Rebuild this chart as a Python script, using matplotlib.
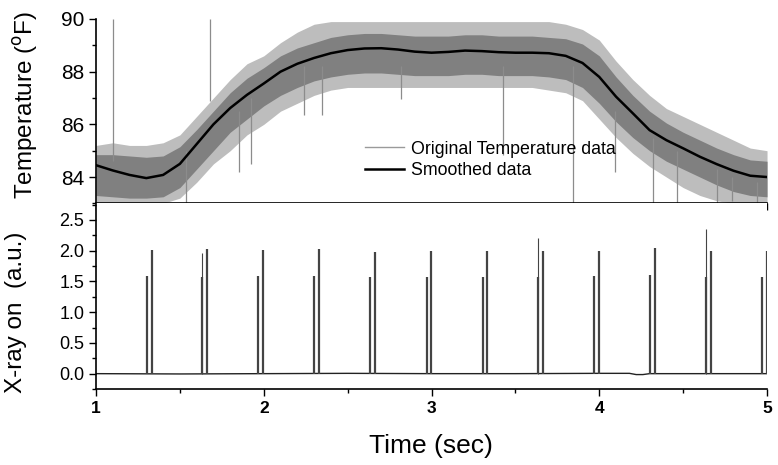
import numpy as np
import matplotlib
matplotlib.use("Agg")
import matplotlib.pyplot as plt
from matplotlib.lines import Line2D
from matplotlib.ticker import MultipleLocator

plt.rcParams['font.family'] = ['Liberation Sans', 'DejaVu Sans']

# temperature, every 0.1 s
t = [1.0, 1.1, 1.2, 1.3, 1.4, 1.5, 1.6, 1.7, 1.8, 1.9, 2.0, 2.1, 2.2, 2.3, 2.4, 2.5, 2.6, 2.7, 2.8, 2.9,
     3.0, 3.1, 3.2, 3.3, 3.4, 3.5, 3.6, 3.7, 3.8, 3.9, 4.0, 4.1, 4.2, 4.3, 4.4, 4.5, 4.6, 4.7, 4.8, 4.9, 5.0]
smooth = [84.45, 84.25, 84.08, 83.96, 84.08, 84.5, 85.25, 86.0, 86.62, 87.12, 87.55, 88.0, 88.3, 88.52, 88.7,
          88.82, 88.88, 88.89, 88.84, 88.76, 88.72, 88.75, 88.8, 88.78, 88.74, 88.72, 88.72, 88.7, 88.6, 88.33,
          87.8, 87.05, 86.42, 85.78, 85.4, 85.09, 84.77, 84.49, 84.24, 84.05, 84.0]
core_hi = [84.85, 84.85, 84.8, 84.75, 84.8, 85.15, 85.8, 86.5, 87.2, 87.75, 88.15, 88.6, 88.9, 89.1, 89.3,
           89.4, 89.45, 89.45, 89.4, 89.35, 89.35, 89.35, 89.4, 89.4, 89.35, 89.35, 89.35, 89.3, 89.25, 89.05,
           88.6, 87.8, 87.1, 86.5, 86.05, 85.7, 85.4, 85.1, 84.85, 84.65, 84.6]
core_lo = [83.3, 83.25, 83.2, 83.2, 83.25, 83.6, 84.3, 85.0, 85.7, 86.2, 86.7, 87.1, 87.4, 87.65, 87.8,
           87.9, 87.95, 87.95, 87.9, 87.85, 87.85, 87.85, 87.9, 87.9, 87.85, 87.85, 87.85, 87.8, 87.7, 87.4,
           86.8, 86.1, 85.5, 85.0, 84.6, 84.3, 84.0, 83.7, 83.45, 83.3, 83.25]
outer_hi = [85.2, 85.3, 85.2, 85.2, 85.3, 85.6, 86.3, 87.0, 87.7, 88.3, 88.6, 89.1, 89.5, 89.8, 89.9,
            89.9, 89.9, 89.9, 89.9, 89.9, 89.9, 89.9, 89.9, 89.9, 89.9, 89.9, 89.9, 89.9, 89.8, 89.6,
            89.2, 88.4, 87.7, 87.1, 86.6, 86.3, 86.0, 85.7, 85.4, 85.1, 85.0]
outer_lo = [83.0, 83.0, 83.0, 83.0, 83.0, 83.2, 83.8, 84.5, 85.0, 85.6, 86.0, 86.5, 86.8, 87.1, 87.3,
            87.4, 87.4, 87.4, 87.4, 87.4, 87.4, 87.4, 87.4, 87.4, 87.4, 87.4, 87.4, 87.3, 87.2, 86.9,
            86.2, 85.5, 84.9, 84.4, 84.0, 83.6, 83.3, 83.1, 83.0, 83.0, 83.0]

# single outlier samples of the raw temperature
spike_t = [1.099, 1.68, 1.534, 1.85, 1.922, 2.242, 2.35, 2.818, 3.424, 3.845, 4.094, 4.318, 4.465, 4.70, 4.79, 4.94]
spike_lo = [84.6, 86.9, 83.0, 84.2, 84.5, 86.35, 86.35, 86.95, 84.83, 83.0, 84.2, 83.0, 83.0, 83.0, 83.1, 83.0]
spike_hi = [90.0, 90.0, 85.0, 86.5, 87.0, 88.2, 88.2, 88.2, 88.2, 88.2, 86.5, 85.5, 85.0, 84.3, 84.0, 83.8]

# x-ray signal
pulse_t = [1.302, 1.332, 1.634, 1.663, 1.968, 1.998, 2.301, 2.331, 2.633, 2.663, 2.971, 2.997,
           3.304, 3.330, 3.637, 3.665, 3.970, 3.998, 4.304, 4.332, 4.636, 4.664, 4.972, 4.998]
pulse_h = [1.59, 2.01, 1.57, 2.03, 1.59, 2.01, 1.59, 2.03, 1.58, 1.98, 1.58, 2.00,
           1.58, 2.00, 1.58, 2.00, 1.59, 2.00, 1.60, 2.04, 1.58, 2.00, 1.58, 2.00]
peak_t = [1.634, 3.637, 4.636]
peak_h = [1.97, 2.21, 2.35]
base_t = [1.0, 1.5, 2.0, 2.5, 3.0, 3.5, 4.0, 4.18, 4.22, 4.26, 4.3, 4.5, 5.0]
base_v = [0.0, -0.005, 0.0, 0.005, 0.0, 0.0, 0.005, 0.005, -0.015, -0.015, 0.0, 0.0, 0.0]

fig = plt.figure(figsize=(7.78, 4.65), dpi=100)
ax1 = fig.add_axes([0.1234, 0.5626, 0.8625, 0.3966])
ax2 = fig.add_axes([0.1234, 0.1634, 0.8625, 0.3992])

# top panel
ax1.fill_between(t, outer_lo, outer_hi, color='#bdbdbd', lw=0)
ax1.fill_between(t, core_lo, core_hi, color='#808080', lw=0)
ax1.vlines(spike_t, spike_lo, spike_hi, color='#8c8c8c', lw=0.9)
ax1.plot(t, smooth, color='black', lw=1.8)
ax1.set_xlim(1, 5)
ax1.set_ylim(83, 90)
ax1.yaxis.set_major_locator(MultipleLocator(2))
ax1.yaxis.set_minor_locator(MultipleLocator(1))
ax1.xaxis.set_major_locator(MultipleLocator(1))
ax1.xaxis.set_minor_locator(MultipleLocator(0.5))
ax1.tick_params(axis='x', labelbottom=False)
ax1.tick_params(axis='y', labelsize=15)
ax1.set_ylabel('Temperature ($^{\\rm o}$F)', fontsize=17.5)
ax1.yaxis.set_label_coords(-0.083, 0.536)

handles = [Line2D([], [], color='#9a9a9a', lw=1), Line2D([], [], color='black', lw=1.8)]
ax1.legend(handles, ['Original Temperature data', 'Smoothed data'], loc='upper left',
           bbox_to_anchor=(0.401, 0.34), frameon=False, fontsize=12.8, handlelength=2.2,
           handletextpad=0.4, labelspacing=0.25, borderpad=0, borderaxespad=0)

# bottom panel
ax2.plot(base_t, base_v, color='#222222', lw=1)
ax2.vlines(pulse_t, 0, pulse_h, color='#444444', lw=1.6)
ax2.vlines(peak_t, 0, peak_h, color='#444444', lw=0.8)
ax2.set_xlim(1, 5)
ax2.set_ylim(-0.25, 2.77)
ax2.yaxis.set_major_locator(MultipleLocator(0.5))
ax2.yaxis.set_minor_locator(MultipleLocator(0.25))
ax2.xaxis.set_major_locator(MultipleLocator(1))
ax2.xaxis.set_minor_locator(MultipleLocator(0.5))
ax2.yaxis.set_major_formatter(matplotlib.ticker.FormatStrFormatter('%.1f'))
ax2.tick_params(axis='y', labelsize=13)
ax2.tick_params(axis='x', labelsize=12.5)
for lab in ax2.get_xticklabels():
    lab.set_fontweight('bold')
ax2.set_ylabel('X-ray on  (a.u.)', fontsize=17.5)
ax2.yaxis.set_label_coords(-0.103, 0.415)
ax2.set_xlabel('Time (sec)', fontsize=19)
ax2.xaxis.set_label_coords(0.499, -0.242)

for ax in (ax1, ax2):
    ax.spines['top'].set_visible(False)
    ax.spines['right'].set_visible(False)
    ax.spines['left'].set_linewidth(1.2)
    ax.spines['bottom'].set_linewidth(1.2)
    ax.tick_params(which='major', direction='out', length=5, width=1)
    ax.tick_params(which='minor', direction='out', length=3, width=1)

fig.savefig('out.png', dpi=100)
